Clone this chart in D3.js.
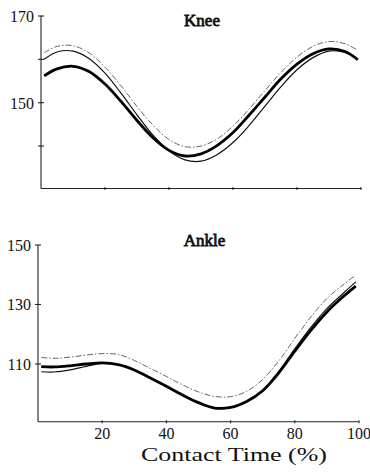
<!DOCTYPE html>
<html>
<head>
<meta charset="utf-8">
<script src="https://cdn.jsdelivr.net/npm/d3@7/dist/d3.min.js"></script>
<style>
html,body{margin:0;padding:0;background:#fff;}
svg{display:block;}
</style>
</head>
<body>
<svg id="chart" width="370" height="472"></svg>
<script>
// Contact time (%) sample points
const contactTime = [1,5,10,15,20,25,30,35,40,45,50,55,60,65,70,75,80,85,90,95,99];

// Knee angle (deg)
const kneeThick = [156.2,157.8,158.4,157.2,154.3,150.3,145.9,141.9,139.0,137.7,138.2,140.1,143.1,147.1,151.3,155.5,158.9,161.3,162.4,161.8,159.9];
const kneeThin  = [160.0,161.7,161.9,160.2,156.8,152.2,147.2,142.5,138.9,136.8,136.5,138.0,140.8,144.7,149.2,153.7,157.6,160.4,161.9,161.6,160.1];
const kneeDash  = [161.5,163.0,163.15,161.5,158.2,153.9,149.1,144.8,141.5,139.85,140.0,141.6,144.6,148.5,152.8,157.0,160.5,163.0,164.1,163.6,162.1];

// Ankle angle (deg)
const ankleThick = [109.1,109.0,109.4,110.0,110.4,109.8,108.0,105.3,102.5,99.6,97.0,95.2,95.4,97.4,101.0,107.0,114.3,121.3,127.5,132.6,136.2];
const ankleThin  = [107.4,107.3,108.0,109.2,110.2,109.8,108.0,105.3,102.4,99.5,96.9,95.1,95.3,97.4,101.2,107.5,115.1,122.3,128.6,133.7,137.6];
const ankleDash  = [112.2,111.9,112.3,113.0,113.5,113.2,111.2,108.5,105.8,103.0,100.6,99.1,99.0,100.8,104.8,111.0,118.6,125.8,132.0,136.6,139.9];

// Ticks
const xTicks = [20,40,60,80,100];
const kneeYTicks = [140,150,160,170];
const kneeYLabels = [150,170];
const ankleYTicks = [110,130,150];
const ankleYLabels = [110,130,150];

const FONT = '"Liberation Serif"';
const svg = d3.select("#chart");

function label(g, txt, x, y, size, anchor){
  return g.append("text").attr("x",x).attr("y",y).attr("text-anchor",anchor)
    .style("font-family",FONT).style("font-size",size+"px").attr("fill","#111").text(txt);
}

function panel(cfg){
  const x = d3.scaleLinear().domain([0,100]).range([cfg.x0, cfg.x1]);
  const y = d3.scaleLinear().domain(cfg.ydom).range([cfg.yb, cfg.yt]);
  const g = svg.append("g");
  g.append("line").attr("x1",x(0)).attr("x2",x(0)).attr("y1",y(cfg.ydom[1])).attr("y2",cfg.yb)
    .attr("stroke","#222").attr("stroke-width",1.1);
  g.append("line").attr("x1",x(0)).attr("x2",x(100)).attr("y1",cfg.yb).attr("y2",cfg.yb)
    .attr("stroke","#222").attr("stroke-width",1.1);
  cfg.yticks.forEach(t=>{
    g.append("line").attr("x1",x(0)-3).attr("x2",x(0)+3).attr("y1",y(t)).attr("y2",y(t))
      .attr("stroke","#222").attr("stroke-width",1.1);
  });
  cfg.ylabels.forEach(t=>{
    label(g, String(t), x(0)-7, y(t)+6, 16, "end");
  });
  xTicks.forEach(t=>{
    g.append("line").attr("x1",x(t)).attr("x2",x(t)).attr("y1",cfg.yb-1.5).attr("y2",cfg.yb+1.5)
      .attr("stroke","#222").attr("stroke-width",1.1);
    if(cfg.xlabels){
      label(g, String(t), x(t), cfg.yb+16.8, 16, "middle");
    }
  });
  label(g, cfg.title, cfg.tx, cfg.ty, 17, "middle")
    .attr("stroke","#111").attr("stroke-width",0.8);
  const line = d3.line().x((d,i)=>x(contactTime[i])).y(d=>y(d)).curve(d3.curveCatmullRom);
  g.append("path").attr("d",line(cfg.dash)).attr("fill","none").attr("stroke","#666")
    .attr("stroke-width",1).attr("stroke-dasharray","6,2,1.5,2");
  g.append("path").attr("d",line(cfg.thin)).attr("fill","none").attr("stroke","#111")
    .attr("stroke-width",1.2);
  g.append("path").attr("d",line(cfg.thick)).attr("fill","none").attr("stroke","#000")
    .attr("stroke-width",2.8);
  return {x,y};
}

panel({x0:41,x1:361,ydom:[130.2,170],yt:16,yb:188.5,yticks:kneeYTicks,ylabels:kneeYLabels,
  title:"Knee",tx:202,ty:26,thick:kneeThick,thin:kneeThin,dash:kneeDash,xlabels:false});
panel({x0:38,x1:359,ydom:[90.6,150],yt:245,yb:421.7,yticks:ankleYTicks,ylabels:ankleYLabels,
  title:"Ankle",tx:204.5,ty:246,thick:ankleThick,thin:ankleThin,dash:ankleDash,xlabels:true});

label(svg, "Contact Time (%)", 234, 461, 19, "middle")
  .attr("textLength",186).attr("lengthAdjust","spacingAndGlyphs");
</script>
</body>
</html>
